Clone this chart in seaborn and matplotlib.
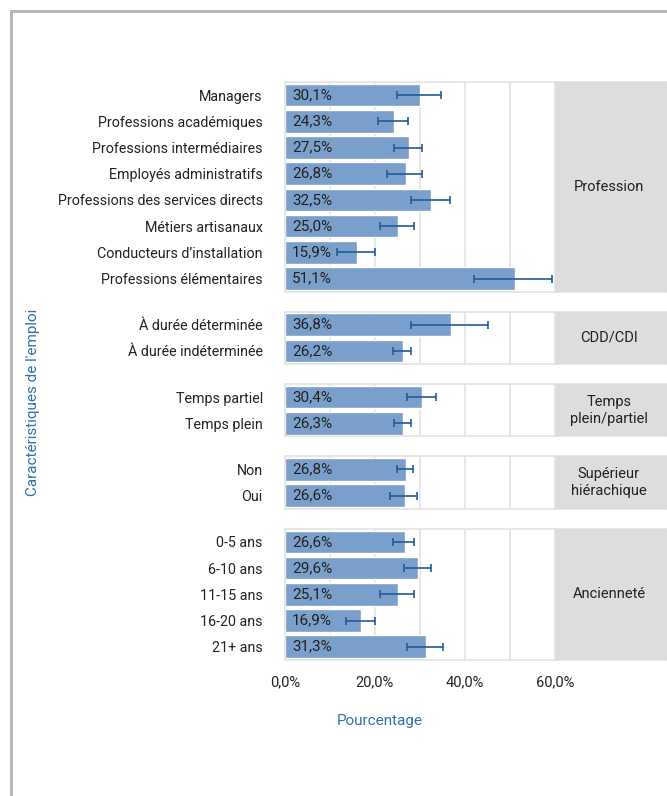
import matplotlib
matplotlib.use("Agg")
import matplotlib.pyplot as plt
from matplotlib.patches import Rectangle
from matplotlib.ticker import FuncFormatter
import seaborn as sns
import pandas as pd

# --- data -------------------------------------------------------------
profession_labels = ["Managers", "Professions académiques", "Professions intermédiaires",
                     "Employés administratifs", "Professions des services directs",
                     "Métiers artisanaux", "Conducteurs d’installation",
                     "Professions élémentaires"]
profession_values = [30.1, 24.3, 27.5, 26.8, 32.5, 25.0, 15.9, 51.1]
profession_low = [24.9, 20.7, 24.3, 22.7, 27.9, 21.0, 11.5, 42.1]
profession_high = [34.7, 27.4, 30.4, 30.5, 36.7, 28.7, 20.1, 59.4]

contrat_labels = ["À durée déterminée", "À durée indéterminée"]
contrat_values = [36.8, 26.2]
contrat_low = [27.9, 24.1]
contrat_high = [45.2, 27.9]

temps_labels = ["Temps partiel", "Temps plein"]
temps_values = [30.4, 26.3]
temps_low = [27.0, 24.3]
temps_high = [33.5, 28.1]

superieur_labels = ["Non", "Oui"]
superieur_values = [26.8, 26.6]
superieur_low = [24.8, 23.4]
superieur_high = [28.5, 29.4]

anciennete_labels = ["0-5 ans", "6-10 ans", "11-15 ans", "16-20 ans", "21+ ans"]
anciennete_values = [26.6, 29.6, 25.1, 16.9, 31.3]
anciennete_low = [24.1, 26.4, 21.0, 13.5, 27.2]
anciennete_high = [28.7, 32.4, 28.7, 20.1, 35.0]

group_names = ["Profession", "CDD/CDI", "Temps\nplein/partiel",
               "Supérieur\nhiérachique", "Ancienneté"]

panels = [
    (profession_labels, profession_values, profession_low, profession_high),
    (contrat_labels, contrat_values, contrat_low, contrat_high),
    (temps_labels, temps_values, temps_low, temps_high),
    (superieur_labels, superieur_values, superieur_low, superieur_high),
    (anciennete_labels, anciennete_values, anciennete_low, anciennete_high),
]

# --- style ------------------------------------------------------------
BAR = "#7b9fcb"
ERR = "#1f5c99"
STRIP = "#dcdddf"
GRID = "#e3e3e3"
BLUE = "#2f72ad"
TEXT = "#222222"

sns.set_style("white")
plt.rcParams["font.family"] = ["Roboto", "DejaVu Sans"]

W, H = 667, 796
fig = plt.figure(figsize=(W / 100, H / 100), dpi=100)

# outer frame
fig.patches.append(Rectangle((11 / W, -0.1), 1.2, 1 - 11 / H + 0.1,
                             transform=fig.transFigure, fill=False,
                             edgecolor="#b9b9bd", linewidth=2.2))

x0_px = 285
px_per_pct = 4.5
x_max = (W - x0_px) / px_per_pct
strip_center = (609 - x0_px) / px_per_pct
row_h = 26.2
gap = 20.0
top = 82.0

fmt = FuncFormatter(lambda v, p: f"{v:.1f}%".replace(".", ","))

for i, (labels, values, low, high) in enumerate(panels):
    n = len(labels)
    h = n * row_h
    ax = fig.add_axes([x0_px / W, 1 - (top + h) / H, (W - x0_px) / W, h / H])
    df = pd.DataFrame({"cat": labels, "val": values})
    sns.barplot(data=df, x="val", y="cat", ax=ax, color=BAR, saturation=1,
                width=0.87, errorbar=None, zorder=2)
    ax.axvspan(60, x_max, color=STRIP, zorder=3, lw=0)
    ax.set_xticks([0, 20, 40, 60])
    ax.set_xticks([10, 30, 50], minor=True)
    ax.grid(True, axis="x", which="both", color=GRID, lw=1.2, zorder=0)
    ax.set_axisbelow(True)
    ax.tick_params(axis="both", which="both", length=0)
    ax.tick_params(axis="y", pad=16, labelsize=10.3, labelcolor=TEXT)
    ax.set_xlabel("")
    ax.set_ylabel("")
    for s in ax.spines.values():
        s.set_color(GRID)
        s.set_linewidth(1.2)

    ys = list(range(n))
    xerr = [[v - l for v, l in zip(values, low)], [hh - v for v, hh in zip(values, high)]]
    ax.errorbar(values, ys, xerr=xerr, fmt="none", ecolor=ERR, elinewidth=1.2,
                capsize=3, capthick=1.2, zorder=4)
    for y, v in zip(ys, values):
        ax.text(1.6, y, f"{v:.1f}%".replace(".", ","), va="center", ha="left",
                fontsize=11, color=TEXT, zorder=5)
    ax.text(strip_center, (n - 1) / 2, group_names[i], ha="center", va="center",
            fontsize=10.5, color=TEXT, zorder=5, linespacing=1.3)

    ax.set_xlim(0, x_max)
    ax.set_ylim(n - 0.5, -0.5)

    if i == len(panels) - 1:
        ax.xaxis.set_major_formatter(fmt)
        ax.tick_params(axis="x", pad=11, labelsize=10.5, labelcolor=TEXT)
    else:
        ax.set_xticklabels([])

    top += h + gap

fig.text(380 / W, 1 - 721 / H, "Pourcentage", ha="center", va="center",
         fontsize=11, color=BLUE)
fig.text(33 / W, 1 - 402 / H, "Caractéristiques de l'emploi", ha="center",
         va="center", rotation=90, fontsize=11, color=BLUE)

fig.savefig("out.png", dpi=100)
